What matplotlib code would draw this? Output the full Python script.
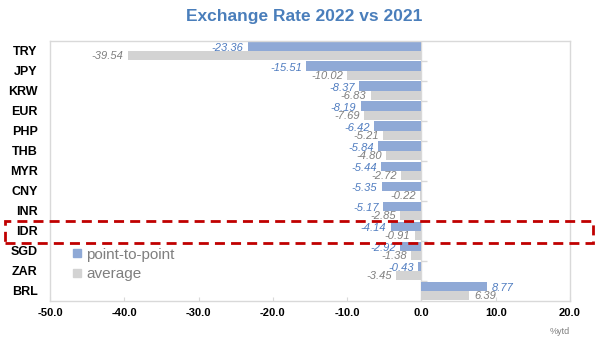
import numpy as np
import matplotlib
matplotlib.use("Agg")
import matplotlib.pyplot as plt
from matplotlib.lines import Line2D
from matplotlib.patches import Rectangle

plt.rcParams['font.family'] = ['Liberation Sans', 'DejaVu Sans']

# year-to-date change vs USD (%)
currencies = ["TRY", "JPY", "KRW", "EUR", "PHP", "THB", "MYR",
              "CNY", "INR", "IDR", "SGD", "ZAR", "BRL"]
point_to_point = [-23.36, -15.51, -8.37, -8.19, -6.42, -5.84, -5.44,
                  -5.35, -5.17, -4.14, -2.92, -0.43, 8.77]
average = [-39.54, -10.02, -6.83, -7.69, -5.21, -4.80, -2.72,
           -0.22, -2.85, -0.91, -1.38, -3.45, 6.39]
x_ticks = [-50, -40, -30, -20, -10, 0, 10, 20]

blue = "#8FA9D6"
grey = "#D3D3D3"
blue_txt = "#4F7CC0"
grey_txt = "#7F7F7F"
frame = "#D9D9D9"

fig = plt.figure(figsize=(5.95, 3.42), dpi=100)
ax = fig.add_axes([50/595, 41/342, 520/595, 260.5/342])

y = np.arange(len(currencies))
h = 0.46
ax.barh(y - h/2, point_to_point, height=h, color=blue, zorder=2)
ax.barh(y + h/2, average, height=h, color=grey, zorder=2)

# value labels next to bar ends
for i, (p, a) in enumerate(zip(point_to_point, average)):
    for val, yy, col in ((p, i - 0.13, blue_txt), (a, i + 0.26, grey_txt)):
        off = -3 if val < 0 else 4
        ha = "right" if val < 0 else "left"
        ax.annotate(f"{val:.2f}", (val, yy), xytext=(off, 0),
                    textcoords="offset points", ha=ha, va="center",
                    fontsize=8, style="italic", color=col, zorder=3)

ax.set_xlim(-50, 20)
ax.set_ylim(len(currencies) - 0.5, -0.5)
ax.set_xticks(x_ticks)
ax.set_xticklabels([f"{t:.1f}" for t in x_ticks], fontsize=8, fontweight="bold")
ax.set_yticks(y)
ax.set_yticklabels(currencies, fontsize=9, fontweight="bold")
ax.tick_params(axis="y", length=0, pad=9)
ax.tick_params(axis="x", direction="in", length=3, color=frame, pad=5)
for s in ax.spines.values():
    s.set_color(frame)
    s.set_linewidth(1)

# category axis at zero with small ticks between groups
ax.axvline(0, color=frame, lw=1, zorder=1)
ax.hlines(y[:-1] + 0.5, 0, 0.7, color=frame, lw=1, zorder=1)

handles = [Line2D([], [], marker="s", ls="none", color=blue, markersize=6),
           Line2D([], [], marker="s", ls="none", color=grey, markersize=6)]
leg = ax.legend(handles, ["point-to-point", "average"], loc="upper left",
                bbox_to_anchor=(0.043, 0.205), frameon=False, fontsize=11,
                handlelength=0.6, handletextpad=0.3, labelspacing=0.35,
                borderpad=0, borderaxespad=0)
for t in leg.get_texts():
    t.set_color(grey_txt)

fig.text(304/595, 1 - 17/342, "Exchange Rate 2022 vs 2021", ha="center",
         va="center", fontsize=12.5, fontweight="bold", color="#4A7EBB")
fig.text(560/595, 1 - 332/342, "%ytd", ha="center", va="center",
         fontsize=6.5, color=grey_txt)

# highlight box around IDR
fig.patches.append(Rectangle((5/595, 1 - 243/342), 588/595, 22/342,
                             transform=fig.transFigure, fill=False,
                             ec="#C00000", lw=2, ls=(0, (3.6, 2.2)),
                             zorder=5))

fig.savefig("out.png", dpi=100)
